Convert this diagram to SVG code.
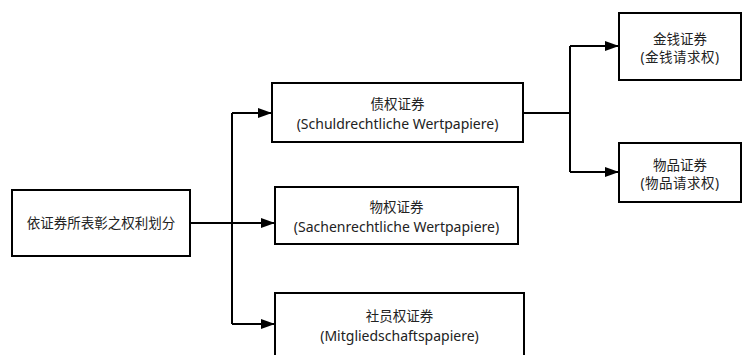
<svg xmlns="http://www.w3.org/2000/svg" width="748" height="355" viewBox="0 0 748 355">
<style>
.box{fill:#fff;stroke:#000;stroke-width:2}
.t{font-family:"Noto Sans","Noto Sans CJK SC",sans-serif;font-size:13.5px;fill:#222;text-anchor:middle;dominant-baseline:central}
.l{font-size:14px}
.c{fill:none;stroke:#000;stroke-width:2}
</style>
<defs>
<marker id="ah" markerWidth="14" markerHeight="10" refX="13" refY="5" orient="auto" markerUnits="userSpaceOnUse">
<path d="M0,0 L14,5 L0,10 Z" fill="#000"/>
</marker>
</defs>
<rect width="748" height="355" fill="#fff"/>
<g id="connectors">
<path class="c" d="M190,223 H232"/>
<path class="c" d="M232,113 V324"/>
<path class="c" d="M232,113 H271" marker-end="url(#ah)"/>
<path class="c" d="M232,223 H274" marker-end="url(#ah)"/>
<path class="c" d="M232,324 H274" marker-end="url(#ah)"/>
<path class="c" d="M523,113 H570"/>
<path class="c" d="M570,46 V172"/>
<path class="c" d="M570,46 H618" marker-end="url(#ah)"/>
<path class="c" d="M570,172 H618" marker-end="url(#ah)"/>
</g>
<g id="root">
<rect class="box" x="12" y="190" width="178" height="66"/>
<text class="t" x="101" y="223">依证券所表彰之权利划分</text>
</g>
<g id="debt">
<rect class="box" x="272" y="83" width="251" height="59"/>
<text class="t" x="397.5" y="104">债权证券</text>
<text class="t l" x="397.5" y="123">(Schuldrechtliche Wertpapiere)</text>
</g>
<g id="property">
<rect class="box" x="275" y="187" width="243" height="57"/>
<text class="t" x="396.5" y="207">物权证券</text>
<text class="t l" x="396.5" y="226">(Sachenrechtliche Wertpapiere)</text>
</g>
<g id="membership">
<rect class="box" x="275" y="293" width="249" height="70"/>
<text class="t" x="399.5" y="316">社员权证券</text>
<text class="t l" x="399.5" y="335">(Mitgliedschaftspapiere)</text>
</g>
<g id="money">
<rect class="box" x="619" y="13" width="122" height="67"/>
<text class="t" x="680" y="39">金钱证券</text>
<text class="t" x="680" y="57" letter-spacing="0.5">(金钱请求权)</text>
</g>
<g id="goods">
<rect class="box" x="619" y="143" width="122" height="59"/>
<text class="t" x="680" y="165">物品证券</text>
<text class="t" x="680" y="183" letter-spacing="0.5">(物品请求权)</text>
</g>
</svg>
